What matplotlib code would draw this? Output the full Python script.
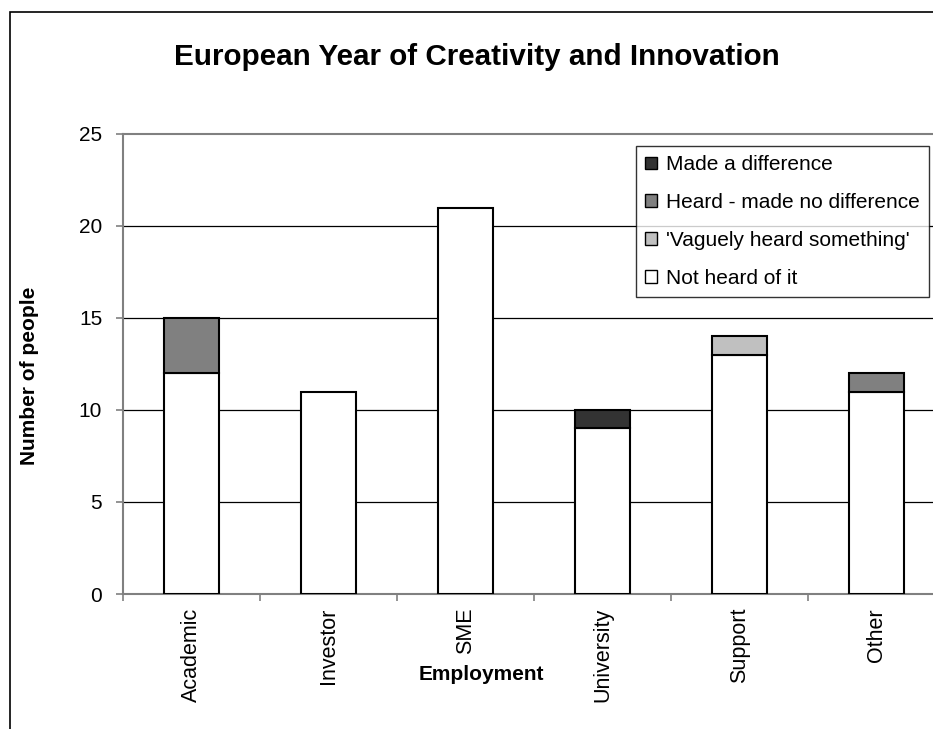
import numpy as np
import matplotlib
matplotlib.use("Agg")
import matplotlib.pyplot as plt
from matplotlib.patches import Rectangle

plt.rcParams['font.family'] = ['Liberation Sans', 'DejaVu Sans']

categories = ["Academic", "Investor", "SME", "University", "Support", "Other"]
not_heard = [12, 11, 21, 9, 13, 11]
vaguely = [0, 0, 0, 0, 1, 0]
heard_no_diff = [3, 0, 0, 0, 0, 1]
made_diff = [0, 0, 0, 1, 0, 0]

series = [
    ("Not heard of it", not_heard, "#ffffff"),
    ("'Vaguely heard something'", vaguely, "#c0c0c0"),
    ("Heard - made no difference", heard_no_diff, "#808080"),
    ("Made a difference", made_diff, "#333333"),
]

W, H = 933, 729
fig = plt.figure(figsize=(W / 100, H / 100), dpi=100)

# chart frame, runs off the right and bottom edges
fig.patches.append(Rectangle((10 / W, -0.05), 1.1, 1.05 - 12 / H,
                             transform=fig.transFigure, fill=False,
                             edgecolor="black", linewidth=1.2))

x0, x1 = 123, 945
y0, y1 = 594, 134
ax = fig.add_axes([x0 / W, 1 - y0 / H, (x1 - x0) / W, (y0 - y1) / H])

x = np.arange(len(categories))
bottom = np.zeros(len(categories))
handles = {}
for name, vals, col in series:
    vals = np.array(vals, dtype=float)
    mask = vals > 0
    b = ax.bar(x[mask], vals[mask], width=0.4, bottom=bottom[mask],
               color=col, edgecolor="black", linewidth=1.5, zorder=3, label=name)
    handles[name] = b
    bottom += vals

ax.set_xlim(-0.5, len(categories) - 0.5)
ax.set_ylim(0, 25)
ax.set_yticks(range(0, 26, 5))
ax.set_xticks(x)
ax.set_xticklabels(categories, rotation=90, fontsize=15.5, va="top")
ax.set_xticks(np.arange(-0.5, len(categories), 1), minor=True)
ax.tick_params(axis="x", which="major", length=0, pad=10)
ax.tick_params(axis="x", which="minor", length=5, color="#808080", width=1.2)
ax.tick_params(axis="y", length=5, color="#808080", width=1.2, labelsize=15, pad=10)

for v in range(5, 25, 5):
    ax.axhline(v, color="black", linewidth=0.9, zorder=1)

for s in ["left", "bottom", "top"]:
    ax.spines[s].set_color("#808080")
    ax.spines[s].set_linewidth(1.5)
ax.spines["right"].set_visible(False)

ax.set_ylabel("Number of people", fontsize=15, fontweight="bold")
ax.yaxis.set_label_coords(-(x0 - 30) / (x1 - x0), (y0 - 376) / (y0 - y1))
ax.set_xlabel("Employment", fontsize=15, fontweight="bold")
ax.xaxis.set_label_coords((481 - x0) / (x1 - x0), -(675 - y0) / (y0 - y1))
ax.xaxis.label.set_va("center")
ax.yaxis.label.set_va("center")

fig.text(477 / W, 1 - 57 / H, "European Year of Creativity and Innovation",
         ha="center", va="center", fontsize=21.3, fontweight="bold")

order = ["Made a difference", "Heard - made no difference",
         "'Vaguely heard something'", "Not heard of it"]
leg = fig.legend([handles[n] for n in order], order,
                 loc="upper left", bbox_to_anchor=(636 / W, 1 - 146 / H),
                 fontsize=15, frameon=True, fancybox=False, edgecolor="black",
                 handlelength=0.55, handleheight=0.55, handletextpad=0.45,
                 borderpad=0.45, labelspacing=0.9, borderaxespad=0)
leg.get_frame().set_linewidth(1.0)
for h in leg.legend_handles:
    h.set_linewidth(1.0)

fig.savefig("out.png", dpi=100, facecolor="white")
